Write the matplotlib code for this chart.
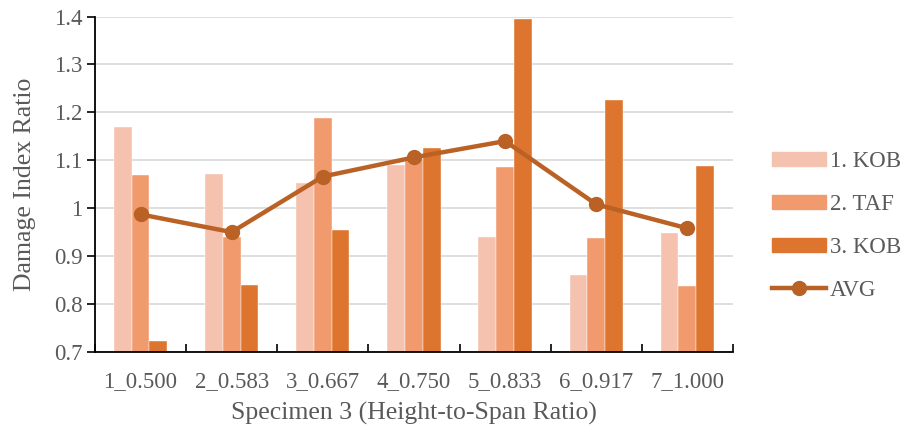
import numpy as np
import matplotlib.pyplot as plt
from matplotlib.lines import Line2D
from matplotlib.patches import Patch

plt.rcParams['font.family'] = ['Liberation Serif', 'DejaVu Serif']

specimens = ['1_0.500', '2_0.583', '3_0.667', '4_0.750', '5_0.833', '6_0.917', '7_1.000']
kob1 = [1.170, 1.071, 1.053, 1.090, 0.940, 0.860, 0.948]
taf2 = [1.069, 0.940, 1.189, 1.103, 1.085, 0.938, 0.838]
kob3 = [0.722, 0.839, 0.955, 1.125, 1.395, 1.225, 1.087]
avg = [0.987, 0.950, 1.066, 1.106, 1.140, 1.008, 0.958]

c1, c2, c3, cavg = '#F4C2AE', '#F09A6E', '#DE752E', '#BA6125'
txt = '#595959'

fig = plt.figure(figsize=(9.08, 4.36), dpi=100)
ax = fig.add_axes([0.1046, 0.193, 0.7026, 0.769])

x = np.arange(len(specimens))
w = 0.195
for off, vals, col in [(-w, kob1, c1), (0, taf2, c2), (w, kob3, c3)]:
    ax.bar(x + off, np.array(vals) - 0.7, w, bottom=0.7, color=col,
           edgecolor='white', linewidth=0.3, zorder=2)

ax.plot(x, avg, color=cavg, lw=3.2, marker='o', ms=10, zorder=3,
        solid_capstyle='round')

ax.set_xlim(-0.5, len(specimens) - 0.5)
ax.set_ylim(0.7, 1.4)
ax.set_yticks(np.arange(0.7, 1.41, 0.1))
ax.set_yticklabels(['0.7', '0.8', '0.9', '1', '1.1', '1.2', '1.3', '1.4'])
ax.grid(axis='y', color='#D9D9D9', lw=1.2, zorder=0)
ax.set_axisbelow(True)

ax.set_xticks(x)
ax.set_xticklabels(specimens)
ax.set_xticks(np.arange(-0.5, len(specimens)), minor=True)
ax.tick_params(axis='x', which='major', length=0, pad=14, labelsize=16.5, labelcolor=txt)
ax.tick_params(axis='x', which='minor', length=6, width=1.2, direction='in')
ax.tick_params(axis='y', length=6, width=1.2, labelsize=16.5, labelcolor=txt, pad=3)

for s in ['top', 'right']:
    ax.spines[s].set_visible(False)
for s in ['left', 'bottom']:
    ax.spines[s].set_linewidth(1.3)

ax.set_ylabel('Damage Index Ratio', fontsize=18.5, color=txt, labelpad=13)
ax.set_xlabel('Specimen 3 (Height-to-Span Ratio)', fontsize=18.5, color=txt, labelpad=7)

handles = [Patch(color=c1, label='1. KOB'), Patch(color=c2, label='2. TAF'),
           Patch(color=c3, label='3. KOB'),
           Line2D([], [], color=cavg, lw=3.2, marker='o', ms=10, label='AVG')]
leg = fig.legend(handles=handles, loc='center left', bbox_to_anchor=(0.828, 0.482),
                 frameon=False, fontsize=16.5, labelcolor=txt, handlelength=2.35,
                 handleheight=0.55, handletextpad=0.15, labelspacing=0.95)

fig.savefig('out.png', dpi=100)
